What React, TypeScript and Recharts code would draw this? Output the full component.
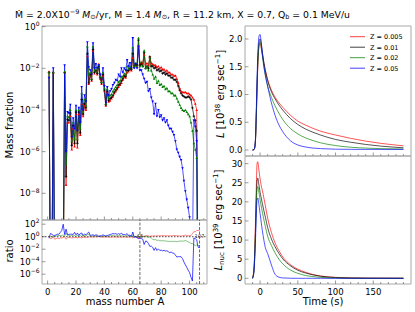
import React from "react";
import { LineChart, Line, XAxis, YAxis, ReferenceArea, ReferenceLine, ReferenceDot } from "recharts";

const FONT = "DejaVu Sans, sans-serif";
const W = 415;
const H = 312;
const FRAME = "#a8a8a8";
const TICK = "#555";

// mass number axis (categories)
const MASS_A = Array.from({ length: 107 }, (_, i) => i + 1);

// log10 mass fraction (values far below 1e-9 = off the plot)
const LOGX_Z005 = [
  -2.15, -13.3, -13.3, -2.2, -13.4, -13.3, -13.2, -13.3, -13.2, -13.2, -13.1, -2.2, -7.6, -4.6, -4.6, -4.3, -5.9, -4.9, -5.75, -4.2,
  -5.8, -4.2, -5.2, -3.7, -4.3, -3.8, -4.0, -1.4, -2.75, -2.3, -2.6, -1.15, -2.25, -2.1, -2.3, -1.8, -2.5, -2.75, -2.35, -3.1,
  -3.8, -3.15, -3.6, -3.55, -3.45, -3.35, -3.2, -3.1, -3.0, -2.9, -2.8, -2.7, -2.55, -2.4, -2.45, -2.2, -2.15, -2.05, -2.1, -1.5,
  -1.95, -1.85, -1.9, -0.95, -1.8, -1.75, -1.75, -1.35, -1.8, -1.75, -1.85, -1.45, -1.75, -1.8, -1.85, -1.85, -1.95, -1.9, -2.0, -1.95,
  -2.05, -2.05, -2.15, -2.1, -2.2, -2.2, -2.3, -2.3, -2.35, -2.35, -2.5, -2.7, -2.95, -3.1, -3.15, -3.15, -3.15, -3.2, -3.2, -3.25,
  -3.3, -3.4, -3.5, -3.7, -4.0, -13.0, -13.0,
];
const LOGX_Z01 = [
  -2.2, -13.0, -13.0, -2.2, -13.0, -13.0, -13.0, -13.0, -13.0, -13.0, -13.0, -2.2, -7.2, -4.45, -4.5, -4.15, -5.7, -4.75, -5.6, -4.1,
  -5.6, -4.1, -5.1, -3.5, -4.2, -3.7, -3.9, -1.3, -2.7, -2.3, -2.55, -1.1, -2.2, -2.1, -2.25, -1.9, -2.45, -2.7, -2.3, -3.05,
  -3.75, -3.1, -3.55, -3.45, -3.4, -3.3, -3.15, -3.05, -2.95, -2.8, -2.75, -2.6, -2.5, -2.35, -2.4, -2.1, -2.1, -2.0, -2.05, -1.3,
  -1.9, -1.8, -1.85, -0.65, -1.85, -1.8, -1.9, -1.25, -2.0, -1.9, -2.0, -1.45, -1.9, -1.9, -2.0, -1.95, -2.1, -2.05, -2.15, -2.1,
  -2.25, -2.2, -2.3, -2.25, -2.35, -2.35, -2.45, -2.45, -2.55, -2.55, -2.65, -2.85, -3.05, -3.2, -3.3, -3.35, -3.4, -3.4, -3.35, -3.4,
  -3.5, -3.9, -4.3, -4.5, -5.0, -14.0, -14.0,
];
const LOGX_Z02 = [
  -2.2, -13.0, -13.0, -2.2, -12.9, -12.9, -12.8, -12.8, -12.8, -12.8, -12.7, -2.15, -6.6, -4.3, -4.35, -4.0, -5.5, -4.6, -5.4, -4.0,
  -5.4, -4.0, -4.9, -3.2, -4.1, -3.5, -3.8, -0.95, -2.3, -2.2, -2.5, -0.95, -2.1, -1.95, -2.15, -1.85, -2.4, -2.65, -2.2, -2.95,
  -3.7, -3.0, -3.45, -3.3, -3.25, -3.1, -3.0, -2.9, -2.8, -2.65, -2.6, -2.4, -2.4, -2.25, -2.3, -1.9, -2.0, -1.9, -2.0, -1.0,
  -1.9, -1.75, -1.9, -0.55, -1.9, -1.7, -1.9, -1.15, -2.0, -1.9, -2.1, -1.5, -2.1, -2.3, -2.5, -2.4, -2.7, -2.6, -2.8, -2.75,
  -2.9, -2.85, -3.0, -2.95, -3.1, -3.1, -3.2, -3.2, -3.3, -3.3, -3.45, -3.6, -3.75, -3.9, -4.0, -4.05, -4.0, -4.1, -4.2, -4.3,
  -4.6, -5.0, -5.6, -5.9, -6.3, -15.4, -15.4,
];
const LOGX_Z05 = [
  -2.45, -12.5, -12.6, -2.0, -12.8, -12.7, -12.6, -12.6, -12.3, -12.0, -11.0, -1.85, -6.0, -4.1, -4.15, -3.75, -5.3, -4.4, -4.9, -3.8,
  -5.0, -3.9, -4.6, -2.9, -4.0, -3.3, -3.6, -0.75, -1.95, -2.1, -2.3, -0.8, -2.0, -1.8, -2.0, -1.85, -2.3, -2.55, -2.0, -2.85,
  -3.65, -2.9, -3.3, -3.1, -3.0, -2.8, -2.7, -2.55, -2.6, -2.3, -2.4, -2.0, -2.2, -2.0, -2.1, -1.6, -1.9, -1.75, -2.0, -0.55,
  -2.0, -1.8, -2.0, -0.95, -2.1, -2.1, -2.3, -2.5, -2.7, -2.65, -3.1, -3.0, -3.4, -3.6, -4.2, -3.7, -4.3, -4.0, -4.35, -4.25,
  -4.5, -4.4, -4.6, -4.5, -4.75, -4.9, -4.9, -5.05, -5.2, -5.5, -5.9, -6.05, -6.25, -6.4, -6.8, -7.4, -7.9, -8.3, -8.7, -9.15,
  -10.0, -11.0, -4.5, -4.8, -5.5, -15.7, -15.7,
];

// light curves
const TIME_S = [-10, -8, -7, -6, -5, -4, -3, -2, -1, 0, 1, 2, 3, 5, 7, 10, 15, 20, 25, 30, 40, 50, 60, 70, 80, 100, 120, 140, 160, 190];
const L_Z005 = [0, 0.01, 0.05, 0.2, 0.6, 1.1, 1.5, 1.78, 1.9, 1.92, 1.88, 1.8, 1.72, 1.56, 1.43, 1.27, 1.08, 0.95, 0.85, 0.77, 0.63, 0.52, 0.45, 0.39, 0.34, 0.27, 0.21, 0.16, 0.12, 0.075];
const L_Z01 = [0, 0.01, 0.05, 0.22, 0.65, 1.15, 1.6, 1.85, 1.97, 2.0, 1.95, 1.86, 1.76, 1.58, 1.43, 1.25, 1.05, 0.92, 0.81, 0.72, 0.57, 0.46, 0.38, 0.32, 0.27, 0.19, 0.14, 0.1, 0.07, 0.04];
const L_Z02 = [0, 0.01, 0.05, 0.22, 0.65, 1.15, 1.58, 1.82, 1.93, 1.95, 1.9, 1.8, 1.7, 1.5, 1.34, 1.15, 0.95, 0.79, 0.66, 0.55, 0.39, 0.29, 0.22, 0.17, 0.13, 0.08, 0.05, 0.035, 0.025, 0.018];
const L_Z05 = [0, 0.01, 0.06, 0.25, 0.75, 1.3, 1.75, 1.98, 2.07, 2.08, 2.0, 1.88, 1.75, 1.52, 1.35, 1.15, 0.85, 0.62, 0.45, 0.33, 0.17, 0.09, 0.055, 0.035, 0.025, 0.015, 0.012, 0.011, 0.01, 0.01];
const LNUC_Z005 = [0, 3, 8, 16, 24, 30, 30.5, 29, 27.5, 26, 24.8, 23.8, 23, 21, 19, 15.8, 12, 9.2, 7.2, 5.6, 3.6, 2.4, 1.6, 1.0, 0.6, 0.25, 0.1, 0.05, 0.03, 0.02];
const LNUC_Z01 = [0, 2.5, 7, 13.5, 21, 25.5, 26.2, 25, 23.8, 22.5, 21.5, 20.5, 19.6, 17.7, 16, 13.3, 10.3, 8.2, 6.5, 5.1, 3.3, 2.1, 1.4, 0.9, 0.55, 0.2, 0.08, 0.03, 0.02, 0.01];
const LNUC_Z02 = [0, 2.3, 6.5, 12.5, 19, 23.5, 24, 23, 21.8, 20.5, 19.4, 18.3, 17.3, 15.3, 13.5, 11, 8.6, 6.6, 5.0, 3.8, 2.2, 1.3, 0.75, 0.45, 0.25, 0.08, 0.03, 0.01, 0, 0];
const LNUC_Z05 = [0, 2, 5.5, 10.5, 17, 20.5, 21, 20, 18.5, 17, 15.4, 13.9, 12.5, 10, 8, 6.5, 3.5, 1.0, 0.3, 0.1, 0.02, 0, 0, 0, 0, 0, 0, 0, 0, 0];

const SERIES = [
  { id: "z005", name: "Z = 0.005", color: "#ff0000", marker: "up", logx: LOGX_Z005, lum: L_Z005, nuc: LNUC_Z005 },
  { id: "z01", name: "Z = 0.01", color: "#000000", marker: "plus", logx: LOGX_Z01, lum: L_Z01, nuc: LNUC_Z01 },
  { id: "z02", name: "Z = 0.02", color: "#008000", marker: "up", logx: LOGX_Z02, lum: L_Z02, nuc: LNUC_Z02 },
  { id: "z05", name: "Z = 0.05", color: "#0000ff", marker: "down", logx: LOGX_Z05, lum: L_Z05, nuc: LNUC_Z05 },
];

// ratio is taken against the Z = 0.01 run
const massData = MASS_A.map((a, i) => {
  const row: Record<string, number> = { A: a };
  SERIES.forEach((s) => {
    row[s.id] = s.logx[i];
    row["r_" + s.id] = s.logx[i] - LOGX_Z01[i];
  });
  return row;
});

const timeData = TIME_S.map((t, i) => {
  const row: Record<string, number> = { t };
  SERIES.forEach((s) => {
    row["L_" + s.id] = s.lum[i];
    row["N_" + s.id] = s.nuc[i];
  });
  return row;
});

// panel frames in page pixels
const P_MF = { left: 42, right: 207, top: 26, bottom: 220 };
const P_RATIO = { left: 42, right: 207, top: 220, bottom: 284 };
const P_L = { left: 245, right: 411, top: 26, bottom: 156 };
const P_NUC = { left: 245, right: 411, top: 156, bottom: 284 };
// axes are 1px wide/high (a zero-size axis is not drawn at all)
const margin = (p: typeof P_MF) => ({ top: p.top, left: p.left - 1, right: W - p.right, bottom: H - p.bottom - 1 });

const A_DOMAIN: [number, number] = [-3.94, 112.25];
const MF_DOMAIN: [number, number] = [-9.28, 0.03];
const RATIO_DOMAIN: [number, number] = [-7.57, 2.67];
const T_DOMAIN: [number, number] = [-20, 200];
const L_DOMAIN: [number, number] = [-0.108, 2.234];
const NUC_DOMAIN: [number, number] = [-1.49, 32.0];

const A_TICKS = [0, 5, 10, 15, 20, 25, 30, 35, 40, 45, 50, 55, 60, 65, 70, 75, 80, 85, 90, 95, 100, 105, 110];
const T_TICKS = [-10, 0, 10, 20, 30, 40, 50, 60, 70, 80, 90, 100, 110, 120, 130, 140, 150, 160, 170, 180, 190];

const tickText = { fontFamily: FONT, fontSize: 8.5, fill: "#000" };

const isMult = (v: number, m: number) => Math.abs(v / m - Math.round(v / m)) < 1e-6;

const bottomTick = (labelEvery: number | null, majorEvery: number) => (p: any) => {
  const v = p.payload.value;
  const major = isMult(v, majorEvery);
  return (
    <g key={`bt-${v}`}>
      <line x1={p.x} x2={p.x} y1={p.y} y2={p.y - (major ? 3.5 : 2)} stroke={TICK} strokeWidth={0.6} />
      {labelEvery !== null && isMult(v, labelEvery) && (
        <text x={p.x} y={p.y + 10.5} textAnchor="middle" {...tickText}>{v}</text>
      )}
    </g>
  );
};

const logTick = (p: any) => {
  const v = p.payload.value;
  return (
    <g key={`lt-${v}`}>
      <line x1={p.x} x2={p.x + 3.5} y1={p.y} y2={p.y} stroke={TICK} strokeWidth={0.6} />
      <text x={p.x - 2.5} y={p.y + 3} textAnchor="end" {...tickText}>
        <tspan>10</tspan>
        <tspan dy={-3.8} fontSize={6}>{v < 0 ? `\u2212${-v}` : v}</tspan>
      </text>
    </g>
  );
};

const numTick = (digits: number) => (p: any) => {
  const v = p.payload.value;
  return (
    <g key={`nt-${v}`}>
      <line x1={p.x} x2={p.x + 3.5} y1={p.y} y2={p.y} stroke={TICK} strokeWidth={0.6} />
      <text x={p.x - 2.5} y={p.y + 3} textAnchor="end" {...tickText}>{v.toFixed(digits)}</text>
    </g>
  );
};

const markerDot = (shape: string, color: string) => (p: any) => {
  const { cx, cy, value, index } = p;
  if (value == null || value < MF_DOMAIN[0] || cx == null || cy == null) return <g key={`m-${index}`} />;
  const s = 1.3;
  if (shape === "plus") {
    return (
      <path key={`m-${index}`} d={`M${cx - s} ${cy}H${cx + s}M${cx} ${cy - s}V${cy + s}`} stroke={color} strokeWidth={0.7} fill="none" />
    );
  }
  const d = shape === "down"
    ? `M${cx - s} ${cy - s * 0.8}L${cx + s} ${cy - s * 0.8}L${cx} ${cy + s}Z`
    : `M${cx - s} ${cy + s * 0.8}L${cx + s} ${cy + s * 0.8}L${cx} ${cy - s}Z`;
  return <path key={`m-${index}`} d={d} fill={color} stroke="none" />;
};

const Frame = ({ x, y }: { x: [number, number]; y: [number, number] }) => (
  <ReferenceArea x1={x[0]} x2={x[1]} y1={y[0]} y2={y[1]} fill="none" stroke={FRAME} strokeWidth={1} ifOverflow="visible" />
);

const abs: React.CSSProperties = { position: "absolute", left: 0, top: 0 };
const axisCommon = { tickSize: 0, tickMargin: 0, tickLine: false, axisLine: false, interval: 0 as const, allowDataOverflow: true };

export default function App() {
  return (
    <div style={{ position: "absolute", left: 0, top: 0, width: W, height: H, background: "#fff", overflow: "hidden" }}>
      {/* mass fractions */}
      <div style={abs}>
        <LineChart width={W} height={H} data={massData} margin={margin(P_MF)}>
          <XAxis dataKey="A" type="number" domain={A_DOMAIN} ticks={A_TICKS} height={1} {...axisCommon} tick={bottomTick(null, 20)} />
          <YAxis type="number" domain={MF_DOMAIN} ticks={[-8, -6, -4, -2, 0]} width={1} {...axisCommon} tick={logTick} />
          {SERIES.map((s) => (
            <Line key={s.id} dataKey={s.id} stroke={s.color} strokeWidth={0.8} strokeOpacity={0.85}
              dot={markerDot(s.marker, s.color)} activeDot={false} isAnimationActive={false} type="linear" />
          ))}
          <Frame x={A_DOMAIN} y={MF_DOMAIN} />
        </LineChart>
      </div>

      {/* ratio */}
      <div style={abs}>
        <LineChart width={W} height={H} data={massData} margin={margin(P_RATIO)}>
          <XAxis dataKey="A" type="number" domain={A_DOMAIN} ticks={A_TICKS} height={1} {...axisCommon} tick={bottomTick(20, 20)} />
          <YAxis type="number" domain={RATIO_DOMAIN} ticks={[-6, -4, -2, 0, 2]} width={1} {...axisCommon} tick={logTick} />
          <ReferenceLine y={0} stroke="#000" strokeDasharray="1.5 1.5" strokeWidth={0.7} />
          {SERIES.filter((s) => s.id !== "z01").map((s) => (
            <Line key={s.id} dataKey={"r_" + s.id} stroke={s.color} strokeWidth={0.8} strokeOpacity={s.id === "z05" ? 0.9 : 0.6}
              dot={false} activeDot={false} isAnimationActive={false} type="linear" />
          ))}
          <ReferenceLine x={65} stroke="#444" strokeDasharray="3 1.5" strokeWidth={0.8} />
          <ReferenceLine x={107} stroke="#444" strokeDasharray="3 1.5" strokeWidth={0.8} />
          <ReferenceDot x={65} y={0} r={0} fill="none" stroke="none"
            label={{ value: "65", position: "center", fontSize: 5, fill: "#333", fontFamily: FONT }} />
          <ReferenceDot x={107} y={0} r={0} fill="none" stroke="none"
            label={{ value: "107", position: "center", fontSize: 5, fill: "#333", fontFamily: FONT }} />
          <Frame x={A_DOMAIN} y={RATIO_DOMAIN} />
        </LineChart>
      </div>

      {/* L */}
      <div style={abs}>
        <LineChart width={W} height={H} data={timeData} margin={margin(P_L)}>
          <XAxis dataKey="t" type="number" domain={T_DOMAIN} ticks={T_TICKS} height={1} {...axisCommon} tick={bottomTick(null, 50)} />
          <YAxis type="number" domain={L_DOMAIN} ticks={[0, 0.5, 1, 1.5, 2]} width={1} {...axisCommon} tick={numTick(1)} />
          {SERIES.map((s) => (
            <Line key={s.id} dataKey={"L_" + s.id} stroke={s.color} strokeWidth={0.9} strokeOpacity={0.75}
              dot={false} activeDot={false} isAnimationActive={false} type="monotone" />
          ))}
          <Frame x={T_DOMAIN} y={L_DOMAIN} />
        </LineChart>
      </div>

      {/* L_nuc */}
      <div style={abs}>
        <LineChart width={W} height={H} data={timeData} margin={margin(P_NUC)}>
          <XAxis dataKey="t" type="number" domain={T_DOMAIN} ticks={T_TICKS} height={1} {...axisCommon} tick={bottomTick(50, 50)} />
          <YAxis type="number" domain={NUC_DOMAIN} ticks={[0, 5, 10, 15, 20, 25, 30]} width={1} {...axisCommon} tick={numTick(0)} />
          {SERIES.map((s) => (
            <Line key={s.id} dataKey={"N_" + s.id} stroke={s.color} strokeWidth={0.9} strokeOpacity={0.75}
              dot={false} activeDot={false} isAnimationActive={false} type="monotone" />
          ))}
          <Frame x={T_DOMAIN} y={NUC_DOMAIN} />
        </LineChart>
      </div>

      {/* titles, axis labels, legend */}
      <svg width={W} height={H} style={{ ...abs, pointerEvents: "none" }} fontFamily={FONT}>
        <text x={15} y={17.5} fontSize={9.3} fill="#000">
          <tspan>{"\u1E40 = 2.0X10"}</tspan>
          <tspan dy={-3.8} fontSize={6.5}>{"\u22129"}</tspan>
          <tspan dy={3.8}> </tspan>
          <tspan fontStyle="italic">M</tspan>
          <tspan dy={1.6} fontSize={6.5}>{"\u2299"}</tspan>
          <tspan dy={-1.6}>{"/yr, M = 1.4 "}</tspan>
          <tspan fontStyle="italic">M</tspan>
          <tspan dy={1.6} fontSize={6.5}>{"\u2299"}</tspan>
          <tspan dy={-1.6}>{", R = 11.2 km, X = 0.7, Q"}</tspan>
          <tspan dy={1.6} fontSize={6.5}>b</tspan>
          <tspan dy={-1.6}>{" = 0.1 MeV/u"}</tspan>
        </text>
        <text transform="translate(12.5,125) rotate(-90)" textAnchor="middle" fontSize={10}>Mass fraction</text>
        <text transform="translate(12.5,251) rotate(-90)" textAnchor="middle" fontSize={10}>ratio</text>
        <text x={125} y={305} textAnchor="middle" fontSize={10}>mass number A</text>
        <text x={323} y={304.5} textAnchor="middle" fontSize={10}>Time (s)</text>
        <text transform="translate(223.5,94) rotate(-90)" textAnchor="middle" fontSize={10}>
          <tspan fontStyle="italic">L</tspan>
          <tspan> [10</tspan>
          <tspan dy={-3.8} fontSize={7}>38</tspan>
          <tspan dy={3.8}> erg sec</tspan>
          <tspan dy={-3.8} fontSize={7}>{"\u22121"}</tspan>
          <tspan dy={3.8}>]</tspan>
        </text>
        <text transform="translate(221.5,220) rotate(-90)" textAnchor="middle" fontSize={10}>
          <tspan fontStyle="italic">L</tspan>
          <tspan dy={2} fontSize={7}>nuc</tspan>
          <tspan dy={-2}> [10</tspan>
          <tspan dy={-3.8} fontSize={7}>39</tspan>
          <tspan dy={3.8}> erg sec</tspan>
          <tspan dy={-3.8} fontSize={7}>{"\u22121"}</tspan>
          <tspan dy={3.8}>]</tspan>
        </text>
        {SERIES.map((s, i) => {
          const y = 36.7 + i * 10.5;
          return (
            <g key={s.id}>
              <line x1={350} x2={365} y1={y} y2={y} stroke={s.color} strokeOpacity={0.75} strokeWidth={1} />
              <text x={370} y={y + 2.3} fontSize={6.5} fill="#000">{s.name}</text>
            </g>
          );
        })}
      </svg>
    </div>
  );
}
